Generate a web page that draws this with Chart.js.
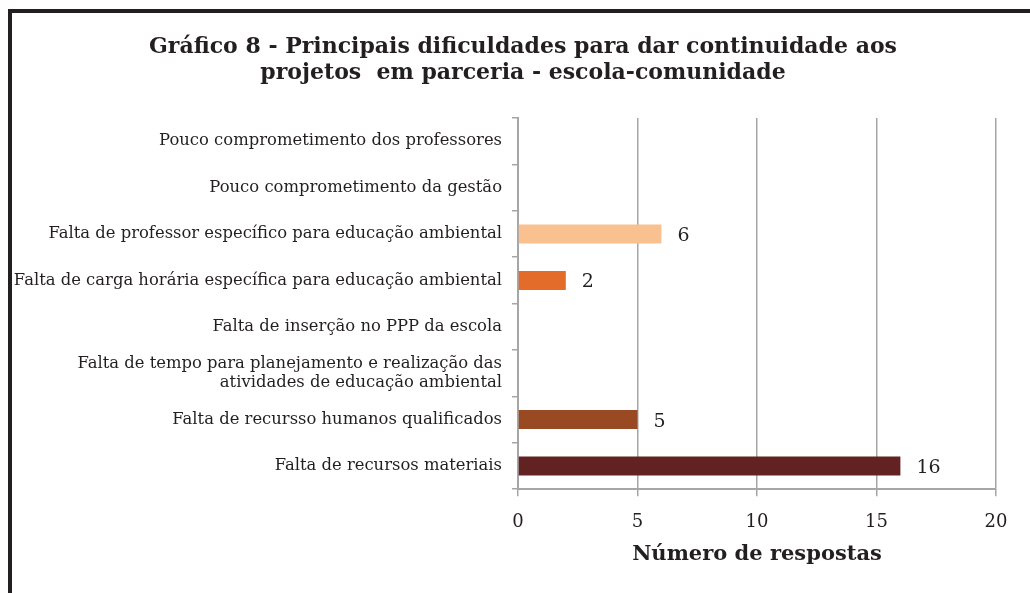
<!DOCTYPE html>
<html>
<head>
<meta charset="utf-8">
<script src="https://cdn.jsdelivr.net/npm/chart.js@4/dist/chart.umd.min.js"></script>
<style>
  html, body { margin: 0; padding: 0; background: #fff; }
  #frame {
    position: absolute; left: 8px; top: 9px;
    width: 1018px; height: 580px;
    border-left: 4px solid #231f20; border-top: 4px solid #231f20;
  }
  #wrap { position: relative; width: 1018px; height: 580px; }
</style>
</head>
<body>
<div id="frame"><div id="wrap"><canvas id="chart"></canvas></div></div>
<script>
  // Chart data
  const titleLines = ['Gráfico 8 - Principais dificuldades para dar continuidade aos', 'projetos  em parceria - escola-comunidade'];
  const categories = [
    'Pouco comprometimento dos professores',
    'Pouco comprometimento da gestão',
    'Falta de professor específico para educação ambiental',
    'Falta de carga horária específica para educação ambiental',
    'Falta de inserção no PPP da escola',
    ['Falta de tempo para planejamento e realização das', 'atividades de educação ambiental'],
    'Falta de recursso humanos qualificados',
    'Falta de recursos materiais'
  ];
  const respostas = [0, 0, 6, 2, 0, 0, 5, 16];
  const barColors = ['#c9c9c9', '#c9c9c9', '#f8c18f', '#e46c2a', '#c9c9c9', '#c9c9c9', '#9a4a22', '#632222'];
  const xTicks = [0, 5, 10, 15, 20];

  const FONT = "'DejaVu Serif', Georgia, serif";
  const gridGray = '#a6a6a6';

  // draw the value next to each non-zero bar
  const valueLabels = {
    id: 'valueLabels',
    afterDatasetsDraw(chart) {
      const ctx = chart.ctx;
      const meta = chart.getDatasetMeta(0);
      ctx.save();
      ctx.font = '19px ' + FONT;
      ctx.fillStyle = '#231f20';
      ctx.textAlign = 'left';
      ctx.textBaseline = 'middle';
      meta.data.forEach((bar, i) => {
        const v = chart.data.datasets[0].data[i];
        if (!v) return;
        ctx.fillText(String(v), bar.x + 16, bar.y + 2);
      });
      ctx.restore();
    }
  };

  // title centred on the whole canvas (the built-in one centres inside the padding)
  const pageTitle = {
    id: 'pageTitle',
    afterDraw(chart) {
      const ctx = chart.ctx;
      ctx.save();
      ctx.font = 'bold 22px ' + FONT;
      ctx.fillStyle = '#231f20';
      ctx.textAlign = 'center';
      ctx.textBaseline = 'middle';
      titleLines.forEach((line, i) => ctx.fillText(line, chart.width / 2 + 2, 34 + i * 26));
      ctx.restore();
    }
  };

  new Chart(document.getElementById('chart'), {
    type: 'bar',
    data: {
      labels: categories,
      datasets: [{
        data: respostas,
        backgroundColor: barColors,
        barPercentage: 0.41,
        categoryPercentage: 1
      }]
    },
    options: {
      indexAxis: 'y',
      responsive: true,
      maintainAspectRatio: false,
      animation: false,
      layout: { padding: { left: 0, right: 34, top: 105, bottom: 26 } },
      plugins: {
        legend: { display: false },
        tooltip: { enabled: false },
        title: { display: false }
      },
      scales: {
        x: {
          min: 0, max: 20,
          afterBuildTicks: (axis) => { axis.ticks = xTicks.map(v => ({ value: v })); },
          grid: { color: gridGray, lineWidth: 1.5, tickLength: 7, drawTicks: true },
          border: { color: gridGray, width: 2 },
          ticks: { color: '#231f20', font: { family: FONT, size: 18 }, padding: 15 },
          title: {
            display: true, text: 'Número de respostas', color: '#231f20',
            font: { family: FONT, size: 21, weight: 'bold' }, padding: { top: -6, bottom: 0 }
          }
        },
        y: {
          // labels are long, so keep the axis from being squeezed to half the width
          afterFit: (axis) => { axis.width = 506; },
          grid: { drawOnChartArea: false, color: gridGray, lineWidth: 1.5, tickLength: 6, offset: true },
          border: { color: gridGray, width: 2 },
          ticks: { color: '#231f20', font: { family: FONT, size: 16.4 }, padding: 10, autoSkip: false }
        }
      }
    },
    plugins: [valueLabels, pageTitle]
  });
</script>
</body>
</html>
